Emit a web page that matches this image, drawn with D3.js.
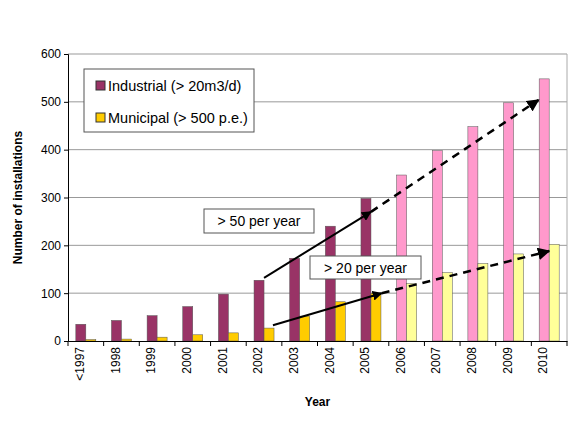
<!DOCTYPE html><html><head><meta charset="utf-8"><script src="https://cdn.jsdelivr.net/npm/d3@7"></script>
<style>body{margin:0;background:#fff}text{font-family:"Liberation Sans",Arial,sans-serif}</style></head><body><svg id="c" width="584" height="438"></svg>
<script>
const years=["<1997","1998","1999","2000","2001","2002","2003","2004","2005","2006","2007","2008","2009","2010"];
const industrial=[35,43,53,72,98,127,173,240,298,347,398,448,498,548];
const municipal=[3,4,8,13,17,27,52,82,100,120,143,162,182,202];
const yTicks=[0,100,200,300,400,500,600];
const svg=d3.select("#c");
const L=68,R=567,T=54,B=341;
const x=d3.scaleBand().domain(years).range([L,R]);
const y=d3.scaleLinear().domain([0,600]).range([B,T]);
const bw=10;
svg.append("g").selectAll("line").data(yTicks.slice(1)).join("line").attr("x1",L).attr("x2",R).attr("y1",d=>y(d)).attr("y2",d=>y(d)).attr("stroke","#999");
svg.append("line").attr("x1",R).attr("x2",R).attr("y1",T).attr("y2",B).attr("stroke","#aaa");
const cx=i=>x(years[i])+x.bandwidth()/2;
svg.append("g").selectAll("rect").data(industrial).join("rect").attr("x",(d,i)=>cx(i)-bw).attr("width",bw).attr("y",d=>y(d)).attr("height",d=>B-y(d)).attr("fill",(d,i)=>i<9?"#993366":"#FF99CC").attr("stroke","#555").attr("stroke-width",0.5);
svg.append("g").selectAll("rect").data(municipal).join("rect").attr("x",(d,i)=>cx(i)).attr("width",bw).attr("y",d=>y(d)).attr("height",d=>B-y(d)).attr("fill",(d,i)=>i<9?"#FFCC00":"#FFFF99").attr("stroke","#555").attr("stroke-width",0.5);
const ya=d3.axisLeft(y).tickValues(yTicks).tickSize(4);
const gy=svg.append("g").attr("transform",`translate(${L},0)`).call(ya);
gy.selectAll("text").attr("font-size",12).attr("fill","#000");
const xa=d3.axisBottom(x).tickSize(0).tickFormat(d=>d);
const gx=svg.append("g").attr("transform",`translate(0,${B})`).call(xa);
gx.select(".domain").attr("stroke","#000");
gy.select(".domain").attr("stroke","#000");
gx.selectAll("text").attr("font-size",12).attr("fill","#000").attr("transform","rotate(-90)").attr("text-anchor","end").attr("x",-6).attr("y",-6).attr("dy","0.35em");
svg.append("g").selectAll("line").data(d3.range(years.length+1)).join("line").attr("x1",i=>L+i*x.bandwidth()).attr("x2",i=>L+i*x.bandwidth()).attr("y1",B).attr("y2",B+5).attr("stroke","#000");
svg.append("text").attr("transform",`translate(22,${(T+B)/2}) rotate(-90)`).attr("text-anchor","middle").attr("font-weight","bold").attr("font-size",12).text("Number of installations");
svg.append("text").attr("x",(L+R)/2).attr("y",406).attr("text-anchor","middle").attr("font-weight","bold").attr("font-size",12).text("Year");
const defs=svg.append("defs");
defs.append("marker").attr("id","ah").attr("viewBox","0 0 10 10").attr("refX",9).attr("refY",5).attr("markerWidth",5).attr("markerHeight",5).attr("orient","auto").append("path").attr("d","M0,0L10,5L0,10z").attr("fill","#000");
const xi=v=>L+v*x.bandwidth();
const trends=[[[5.5,132],[8.5,270],[13.2,504]],[[5.75,33],[8.8,100],[13.5,188]]];
trends.forEach(t=>{
svg.append("line").attr("x1",xi(t[0][0])).attr("y1",y(t[0][1])).attr("x2",xi(t[1][0])).attr("y2",y(t[1][1])).attr("stroke","#000").attr("stroke-width",2).attr("marker-end","url(#ah)");
svg.append("line").attr("x1",xi(t[1][0])).attr("y1",y(t[1][1])).attr("x2",xi(t[2][0])).attr("y2",y(t[2][1])).attr("stroke","#000").attr("stroke-width",2.5).attr("stroke-dasharray","8,6").attr("marker-end","url(#ah)");
});
function box(x0,y0,w,h,txt){svg.append("rect").attr("x",x0).attr("y",y0).attr("width",w).attr("height",h).attr("fill","#fff").attr("stroke","#555");
svg.append("text").attr("x",x0+w/2).attr("y",y0+h/2+5).attr("text-anchor","middle").attr("font-size",14).text(txt);}
box(204,209,110,24,"> 50 per year");
box(310,256,111,23,"> 20 per year");
svg.append("rect").attr("x",84).attr("y",69).attr("width",170).attr("height",63).attr("fill","#fff").attr("stroke","#555");
[["Industrial (> 20m3/d)","#993366"],["Municipal (> 500 p.e.)","#FFCC00"]].forEach((d,i)=>{
const yy=86+i*32;
svg.append("rect").attr("x",96).attr("y",yy-5).attr("width",9).attr("height",9).attr("fill",d[1]).attr("stroke","#333");
svg.append("text").attr("x",108).attr("y",yy+5).attr("font-size",14.5).text(d[0]);});
</script></body></html>
